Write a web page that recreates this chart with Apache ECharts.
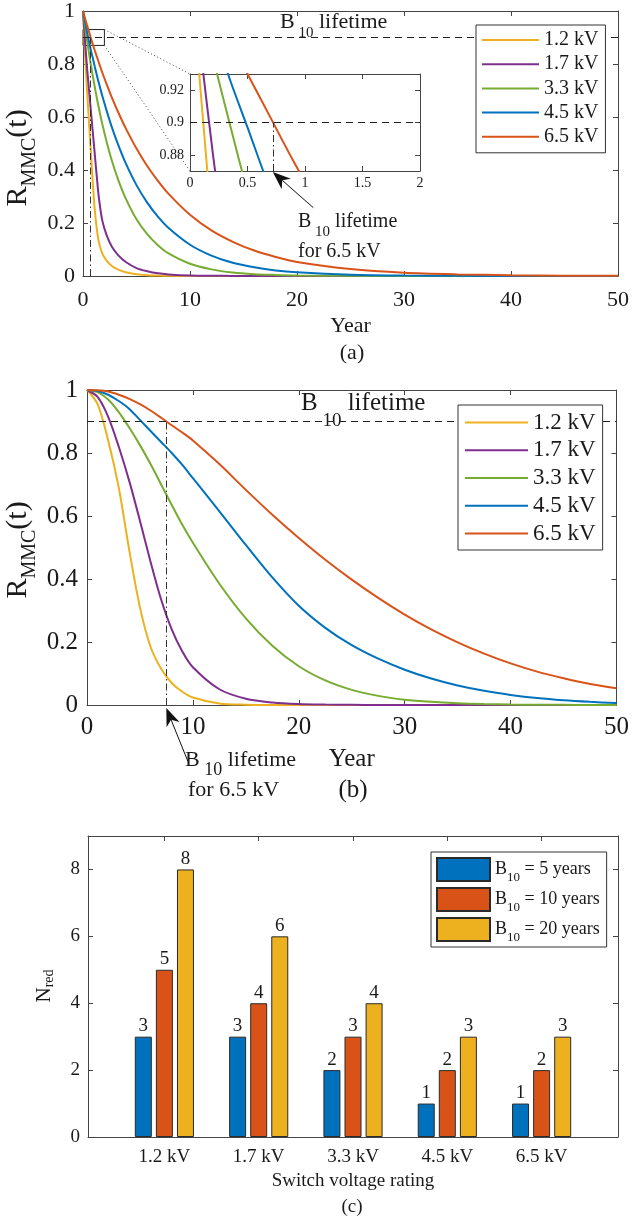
<!DOCTYPE html>
<html>
<head>
<meta charset="utf-8">
<title>MMC reliability</title>
<script src="https://cdn.jsdelivr.net/npm/echarts@6/dist/echarts.min.js"></script>
<style>
  html, body { margin: 0; padding: 0; background: #fff; }
  #chart { width: 632px; height: 1217px; }
</style>
</head>
<body>
<div id="chart"></div>
<script>
// ---- data ----
const seriesNames = ['1.2 kV', '1.7 kV', '3.3 kV', '4.5 kV', '6.5 kV']
const lineColors = ['#EDB120', '#7E2F8E', '#77AC30', '#0072BD', '#D95319']

// (a) reliability vs year
const yearsA = [0, 0.1, 0.2, 0.35, 0.5, 0.7, 0.9, 1.1, 1.3, 1.5, 1.8, 2.2, 2.7, 3.3, 4, 5, 6, 7, 8, 10, 12, 14, 16, 18, 20, 25, 30, 35, 40, 45, 50]
const relA12 = [1, 0.913, 0.83, 0.72, 0.62, 0.49, 0.36, 0.25, 0.175, 0.125, 0.085, 0.058, 0.038, 0.024, 0.014, 0.007, 0.003, 0.0015, 0.0007, 0.0002, 0, 0, 0, 0, 0, 0, 0, 0, 0, 0, 0]
const relA17 = [1, 0.94, 0.88, 0.8, 0.73, 0.64, 0.55, 0.46, 0.37, 0.29, 0.21, 0.155, 0.11, 0.078, 0.053, 0.03, 0.018, 0.01, 0.006, 0.002, 0.0008, 0.0003, 0.0001, 0, 0, 0, 0, 0, 0, 0, 0]
const relA33 = [1, 0.97, 0.94, 0.898, 0.857, 0.806, 0.758, 0.713, 0.67, 0.63, 0.574, 0.508, 0.435, 0.362, 0.292, 0.214, 0.158, 0.116, 0.085, 0.046, 0.025, 0.013, 0.007, 0.004, 0.002, 0.0005, 0.0001, 0, 0, 0, 0]
const relA45 = [1, 0.979, 0.958, 0.926, 0.897, 0.858, 0.825, 0.79, 0.757, 0.725, 0.68, 0.625, 0.561, 0.494, 0.425, 0.343, 0.277, 0.224, 0.181, 0.118, 0.077, 0.05, 0.033, 0.021, 0.014, 0.005, 0.0016, 0.0006, 0.0002, 0.0001, 0]
const relA65 = [1, 0.985, 0.971, 0.95, 0.93, 0.903, 0.876, 0.851, 0.827, 0.803, 0.768, 0.725, 0.673, 0.617, 0.557, 0.481, 0.415, 0.359, 0.31, 0.231, 0.172, 0.129, 0.096, 0.072, 0.053, 0.026, 0.012, 0.006, 0.003, 0.0014, 0.0007]

// (b) reliability vs year
const yearsB = [0, 1, 2, 3, 4, 5, 6, 7, 8, 9, 10, 12.5, 15, 17.5, 20, 22.5, 25, 27.5, 30, 32.5, 35, 37.5, 40, 42.5, 45, 47.5, 50]
const relB12 = [1, 0.955, 0.84, 0.69, 0.49, 0.31, 0.185, 0.115, 0.07, 0.042, 0.024, 0.005, 0.001, 0.0002, 0, 0, 0, 0, 0, 0, 0, 0, 0, 0, 0, 0, 0]
const relB17 = [1, 0.978, 0.915, 0.82, 0.71, 0.585, 0.455, 0.335, 0.24, 0.17, 0.12, 0.05, 0.02, 0.008, 0.003, 0.0012, 0.0005, 0.0002, 0.0001, 0, 0, 0, 0, 0, 0, 0, 0]
const relB33 = [1, 0.993, 0.97, 0.93, 0.88, 0.825, 0.765, 0.7, 0.635, 0.572, 0.515, 0.385, 0.275, 0.188, 0.123, 0.078, 0.048, 0.029, 0.017, 0.01, 0.0055, 0.003, 0.0016, 0.0008, 0.0004, 0.0002, 0.0001]
const relB45 = [1, 0.997, 0.985, 0.965, 0.94, 0.905, 0.87, 0.835, 0.8, 0.762, 0.72, 0.615, 0.508, 0.405, 0.315, 0.245, 0.19, 0.147, 0.112, 0.084, 0.062, 0.045, 0.032, 0.022, 0.015, 0.01, 0.006]
const relB65 = [1, 0.999, 0.995, 0.985, 0.972, 0.955, 0.935, 0.912, 0.888, 0.865, 0.84, 0.765, 0.683, 0.604, 0.53, 0.461, 0.398, 0.34, 0.287, 0.24, 0.199, 0.163, 0.132, 0.106, 0.085, 0.067, 0.053]

// B10 markers
const B10_LEVEL = 0.9
const b10LifeA = 0.72
const b10LifeB = 7.49
const insetX = [0, 2]
const insetY = [0.87, 0.93]
const insetYTicks = [0.88, 0.9, 0.92]

// (c) redundant submodules
const ratings = ['1.2 kV', '1.7 kV', '3.3 kV', '4.5 kV', '6.5 kV']
const b10Years = [5, 10, 20]
const nRed5 = [3, 3, 2, 1, 1]
const nRed10 = [5, 4, 3, 2, 2]
const nRed20 = [8, 6, 4, 3, 3]
const barColors = ['#0072BD', '#D95319', '#EDB120']
const nRedTicks = [0, 2, 4, 6, 8]

// ---- styling helpers ----
const FONT = 'Liberation Serif'
const INK = '#1a1a1a'
const AXIS = '#444'

function pairs(xs, ys) {
    return xs.map((x, i) => [x, ys[i]])
}

// bottom/left axis with labels plus a mirrored top/right axis (MATLAB box)
function makeAxes(dim, gridIndex, o) {
    const tick = { show: true, inside: true, length: 5, lineStyle: { color: AXIS, width: 1 } }
    if (o.ticks) tick.customValues = o.ticks
    const common = {
        type: 'value',
        gridIndex: gridIndex,
        min: o.min,
        max: o.max,
        axisLine: { show: true, onZero: false, lineStyle: { color: AXIS, width: 1 } },
        axisTick: tick,
        splitLine: { show: false }
    }
    if (o.interval != null) common.interval = o.interval
    const label = {
        show: true,
        fontFamily: FONT,
        fontSize: o.fontSize,
        color: INK,
        margin: o.margin
    }
    if (o.ticks) label.customValues = o.ticks
    if (o.formatter) label.formatter = o.formatter
    const main = Object.assign({}, common, {
        position: dim === 'x' ? 'bottom' : 'left',
        axisLabel: label
    })
    if (o.name) {
        main.name = o.name
        main.nameLocation = 'middle'
        main.nameGap = o.nameGap
        main.nameTextStyle = { fontFamily: FONT, fontSize: o.nameSize, color: INK }
    }
    const mirror = Object.assign({}, common, {
        position: dim === 'x' ? 'top' : 'right',
        axisLabel: { show: false }
    })
    return [main, mirror]
}

const relA = [relA12, relA17, relA33, relA45, relA65]
const relB = [relB12, relB17, relB33, relB45, relB65]

function lineSeries(name, i, xi, yi, data) {
    return {
        type: 'line',
        name: name,
        xAxisIndex: xi,
        yAxisIndex: yi,
        data: data,
        symbol: 'none',
        smooth: 0.3,
        lineStyle: { color: lineColors[i], width: 2 },
        itemStyle: { color: lineColors[i] },
        z: 2
    }
}

const dashStyle = { type: [7, 5], color: '#222', width: 1 }
const dashDotStyle = { type: [7, 3, 1.5, 3], color: '#333', width: 1 }

function refLines(xMin, xMax, life, yBottom) {
    return {
        silent: true,
        symbol: ['none', 'none'],
        label: { show: false },
        z: 3,
        data: [
            [{ coord: [xMin, B10_LEVEL], lineStyle: dashStyle }, { coord: [xMax, B10_LEVEL], lineStyle: dashStyle }],
            [{ coord: [life, yBottom], lineStyle: dashDotStyle }, { coord: [life, B10_LEVEL], lineStyle: dashDotStyle }]
        ]
    }
}

const series = []
seriesNames.forEach((name, i) => series.push(lineSeries(name, i, 0, 0, pairs(yearsA, relA[i]))))
seriesNames.forEach((name, i) => series.push(lineSeries(name, i, 2, 2, pairs(yearsA, relA[i]))))
seriesNames.forEach((name, i) => series.push(lineSeries(name, i, 4, 4, pairs(yearsB, relB[i]))))
series[4].markLine = refLines(0, 50, b10LifeA, 0)
series[0].markArea = {
    silent: true,
    itemStyle: { color: 'rgba(0,0,0,0)', borderColor: '#222', borderWidth: 1 },
    data: [[{ coord: [insetX[0], insetY[1]] }, { coord: [insetX[1], insetY[0]] }]]
}
series[9].markLine = refLines(insetX[0], insetX[1], b10LifeA, insetY[0])
series[14].markLine = refLines(0, 50, b10LifeB, 0)

const barNames = b10Years.map(y => 'B10 = ' + y + ' years')
const barData = [nRed5, nRed10, nRed20]
barNames.forEach((name, i) => {
    series.push({
        type: 'bar',
        name: name,
        xAxisIndex: 6,
        yAxisIndex: 6,
        data: barData[i].map((v, k) => [k, v]),
        barWidth: 17,
        barGap: '24%',
        itemStyle: { color: barColors[i], borderColor: '#2a2a2a', borderWidth: 1 },
        label: { show: true, position: 'top', distance: 1, fontFamily: FONT, fontSize: 19, color: INK }
    })
})

const lineLegend = (left, top, padding, itemWidth, fontSize, gap) => ({
    data: seriesNames, orient: 'vertical', left: left, top: top,
    padding: padding, itemWidth: itemWidth, itemHeight: 2, itemGap: gap, icon: 'rect',
    backgroundColor: '#fff', borderColor: '#333', borderWidth: 1, borderRadius: 0,
    textStyle: { fontFamily: FONT, fontSize: fontSize, lineHeight: fontSize, color: INK },
    selectedMode: false, z: 10
})

const option = {
    animation: false,
    backgroundColor: '#fff',
    grid: [
        { left: 83, top: 11, width: 537, height: 265 },
        { left: 190, top: 74, width: 230, height: 97, show: true, backgroundColor: '#fff', borderWidth: 0 },
        { left: 87, top: 390, width: 533, height: 315 },
        { left: 88, top: 836, width: 530, height: 301 }
    ],
    xAxis: [
        ...makeAxes('x', 0, { min: 0, max: 50, interval: 10, fontSize: 22, margin: 13, name: 'Year', nameGap: 39, nameSize: 22 }),
        ...makeAxes('x', 1, { min: insetX[0], max: insetX[1], interval: 0.5, fontSize: 14, margin: 5 }),
        ...makeAxes('x', 2, { min: 0, max: 50, interval: 10, fontSize: 25, margin: 10, name: 'Year', nameGap: 42, nameSize: 25 }),
        ...makeAxes('x', 3, {
            min: -0.81, max: 4.81, ticks: ratings.map((_, i) => i), fontSize: 19, margin: 11,
            formatter: v => ratings[Math.round(v)], name: 'Switch voltage rating', nameGap: 35, nameSize: 19
        })
    ],
    yAxis: [
        ...makeAxes('y', 0, { min: 0, max: 1, interval: 0.2, fontSize: 22, margin: 8 }),
        ...makeAxes('y', 1, { min: insetY[0], max: insetY[1], ticks: insetYTicks, fontSize: 14, margin: 6 }),
        ...makeAxes('y', 2, { min: 0, max: 1, interval: 0.2, fontSize: 25, margin: 9 }),
        ...makeAxes('y', 3, { min: 0, max: 9, ticks: nRedTicks, fontSize: 19, margin: 8 })
    ],
    legend: [
        lineLegend(476, 25, [5, 7, 6, 6], 57, 20, 4.2),
        lineLegend(458, 405, [6, 7, 5, 7], 63, 23, 4.75),
        {
            data: barNames, orient: 'vertical', left: 431, top: 852,
            padding: [3, 7, 3, 5], itemWidth: 53, itemHeight: 23, itemGap: 1, icon: 'rect',
            backgroundColor: '#fff', borderColor: '#333', borderWidth: 1, borderRadius: 0,
            formatter: name => '{b|B}{s|10}{b|' + name.slice(3) + '}',
            textStyle: {
                fontFamily: FONT, fontSize: 18, color: INK,
                rich: {
                    b: { fontFamily: FONT, fontSize: 18, lineHeight: 18, color: INK },
                    s: { fontFamily: FONT, fontSize: 13, lineHeight: 13, padding: [16, 0, 0, 0], color: INK }
                }
            },
            selectedMode: false, z: 10
        }
    ],
    series: series
}

const chart = echarts.init(document.getElementById('chart'))
chart.setOption(option)

// ---- annotations that need pixel positions ----
const px = (xi, yi, p) => chart.convertToPixel({ xAxisIndex: xi, yAxisIndex: yi }, p)

const measureCtx = document.createElement('canvas').getContext('2d')
function textWidth(str, size) {
    measureCtx.font = size + 'px "' + FONT + '"'
    return measureCtx.measureText(str).width
}

// a run of text pieces, each with its own size and vertical shift (subscripts)
function textRun(x, y, parts, opt) {
    opt = opt || {}
    const total = parts.reduce((s, p) => s + textWidth(p.text, p.size), 0)
    let cx = opt.align === 'center' ? -total / 2 : 0
    const children = parts.map(p => {
        const el = {
            type: 'text', x: cx, y: p.dy || 0,
            style: { text: p.text, fontFamily: FONT, fontSize: p.size, fill: INK, align: 'left', verticalAlign: 'middle' }
        }
        cx += textWidth(p.text, p.size)
        return el
    })
    return { type: 'group', x: x, y: y, rotation: opt.rotation || 0, children: children }
}

function b10Label(x, y, size, subSize, dy) {
    return textRun(x, y, [
        { text: 'B', size: size },
        { text: ' 10', size: subSize, dy: dy },
        { text: ' lifetime', size: size }
    ])
}

function plain(x, y, text, size, align) {
    return {
        type: 'text', x: x, y: y,
        style: { text: text, fontFamily: FONT, fontSize: size, fill: INK, align: align || 'left', verticalAlign: 'middle' }
    }
}

function arrow(tip, dx, dy) {
    const tail = [tip[0] + dx, tip[1] + dy]
    const len = Math.hypot(dx, dy)
    const ux = -dx / len, uy = -dy / len
    const nx = -uy, ny = ux
    const L = 18, W = 7
    const back = [tip[0] - ux * L, tip[1] - uy * L]
    const notch = [tip[0] - ux * L * 0.7, tip[1] - uy * L * 0.7]
    return [
        { type: 'line', shape: { x1: tail[0], y1: tail[1], x2: notch[0], y2: notch[1] }, style: { stroke: '#111', lineWidth: 1 } },
        {
            type: 'polygon',
            shape: { points: [tip, [back[0] + nx * W, back[1] + ny * W], notch, [back[0] - nx * W, back[1] - ny * W]] },
            style: { fill: '#111' }
        }
    ]
}

const rectTR = px(0, 0, [insetX[1], insetY[1]])
const rectBR = px(0, 0, [insetX[1], insetY[0]])
const insetTL = px(2, 2, [insetX[0], insetY[1]])
const insetBL = px(2, 2, [insetX[0], insetY[0]])
const tipA = px(2, 2, [b10LifeA, insetY[0]])
const tipB = px(4, 4, [b10LifeB, 0])

const dotted = { stroke: '#444', lineWidth: 1, lineDash: [1, 2.5] }
const rParts = [{ text: 'R', size: 30 }, { text: 'MMC', size: 20, dy: 11 }, { text: '(t)', size: 30 }]

chart.setOption({
    graphic: [
        { type: 'line', shape: { x1: rectTR[0], y1: rectTR[1], x2: insetTL[0], y2: insetTL[1] }, style: dotted },
        { type: 'line', shape: { x1: rectBR[0], y1: rectBR[1], x2: insetBL[0], y2: insetBL[1] }, style: dotted },
        ...arrow([tipA[0], tipA[1] + 1], 40.5, 35.7),
        ...arrow([tipB[0], tipB[1] + 3], 21.6, 53.4),
        b10Label(280, 22, 22, 15, 11),
        b10Label(301, 403, 25, 19, 18),
        b10Label(298, 222, 20, 15, 10),
        plain(298, 252, 'for 6.5 kV', 20),
        b10Label(185, 760, 22, 18, 10),
        plain(188, 790, 'for 6.5 kV', 22),
        textRun(18.5, 158, rParts, { align: 'center', rotation: Math.PI / 2 }),
        textRun(18.5, 550, rParts, { align: 'center', rotation: Math.PI / 2 }),
        textRun(44, 986, [{ text: 'N', size: 21 }, { text: 'red', size: 14, dy: 5 }], { align: 'center', rotation: Math.PI / 2 }),
        plain(352, 353, '(a)', 22, 'center'),
        plain(353, 790, '(b)', 25, 'center'),
        plain(352, 1207, '(c)', 19, 'center')
    ]
})

window.addEventListener('resize', () => chart.resize())
</script>
</body>
</html>
